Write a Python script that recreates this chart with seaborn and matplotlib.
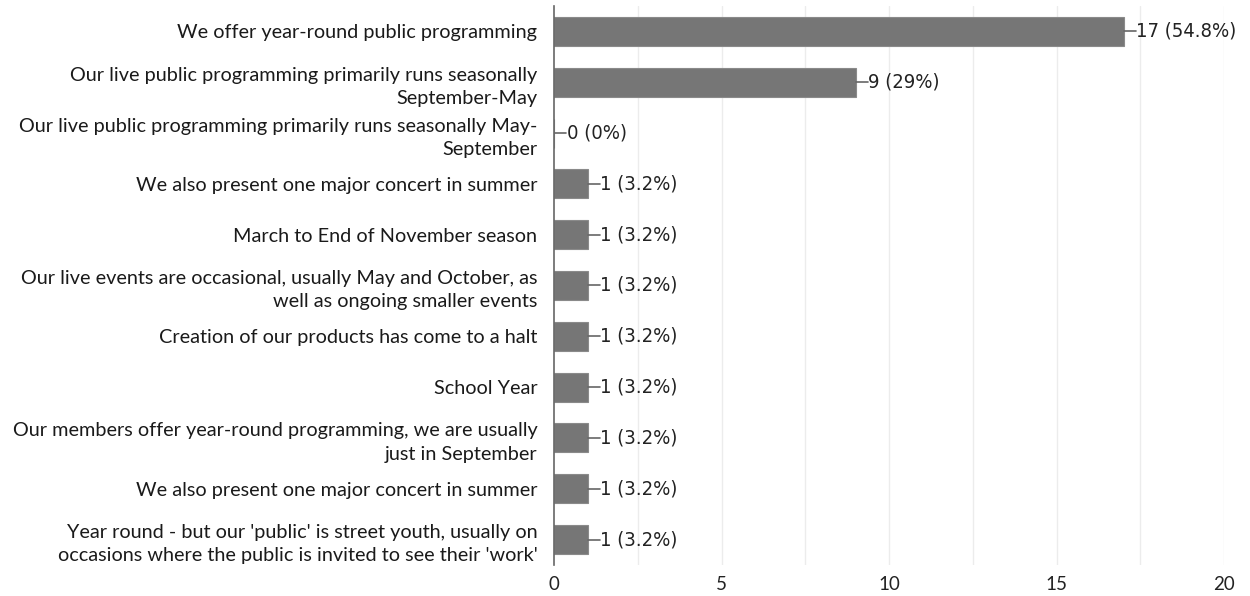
import matplotlib
matplotlib.use("Agg")
import matplotlib.pyplot as plt
import seaborn as sns
import pandas as pd

responses = [
    "We offer year-round public programming",
    "Our live public programming primarily runs seasonally\nSeptember-May",
    "Our live public programming primarily runs seasonally May-\nSeptember",
    "We also present one major concert in summer",
    "March to End of November season",
    "Our live events are occasional, usually May and October, as\nwell as ongoing smaller events",
    "Creation of our products has come to a halt",
    "School Year",
    "Our members offer year-round programming, we are usually\njust in September",
    "We also present one major concert in summer",
    "Year round - but our 'public' is street youth, usually on\noccasions where the public is invited to see their 'work'",
]
counts = [17, 9, 0, 1, 1, 1, 1, 1, 1, 1, 1]
total_respondents = 31
x_ticks = [0, 5, 10, 15, 20]

sns.set_theme(style="white")
label_font = ["Lato", "DejaVu Sans"]

df = pd.DataFrame({
    "row": [f"r{i}" for i in range(len(responses))],
    "count": counts,
})

fig = plt.figure(figsize=(12.5, 5.96), dpi=100)
ax = fig.add_axes([0.4432, 0.052, 0.5360, 0.938])

sns.barplot(data=df, x="count", y="row", orient="h", color="#767676",
            saturation=1, width=0.57, edgecolor="#8a8a8a", linewidth=0.8, ax=ax)

ax.set_xlim(0, 20)
ax.set_ylim(len(responses) - 0.5, -0.5)
ax.set_xticks(x_ticks)
ax.set_xticklabels([str(t) for t in x_ticks], fontsize=13.5, family=label_font,
                   color="#222222")
ax.set_yticks(range(len(responses)))
ax.set_yticklabels(responses, fontsize=14.3, family=label_font,
                   color="#1a1a1a", linespacing=1.45)
ax.tick_params(axis="both", length=0)
ax.tick_params(axis="y", pad=12)
ax.tick_params(axis="x", pad=8)
ax.set_xlabel("")
ax.set_ylabel("")

# faint vertical gridlines every 2.5
for gx in [2.5, 5, 7.5, 10, 12.5, 15, 17.5, 20]:
    ax.axvline(gx, color="#ececec", lw=1, zorder=0)
ax.set_axisbelow(True)

for side in ["top", "right", "bottom"]:
    ax.spines[side].set_visible(False)
ax.spines["left"].set_color("#666666")
ax.spines["left"].set_linewidth(1.2)

# value annotations with short leader lines
for i, c in enumerate(counts):
    pct = round(100 * c / total_respondents, 1)
    pct_txt = f"{pct:g}"
    ax.plot([c, c + 0.36], [i, i], color="#666666", lw=1.2, zorder=3)
    ax.text(c + 0.38, i, f"{c} ({pct_txt}%)", va="center", ha="left",
            fontsize=14.5, family="DejaVu Sans", fontstretch="condensed",
            color="#222222")

fig.savefig("out.png", dpi=100)
